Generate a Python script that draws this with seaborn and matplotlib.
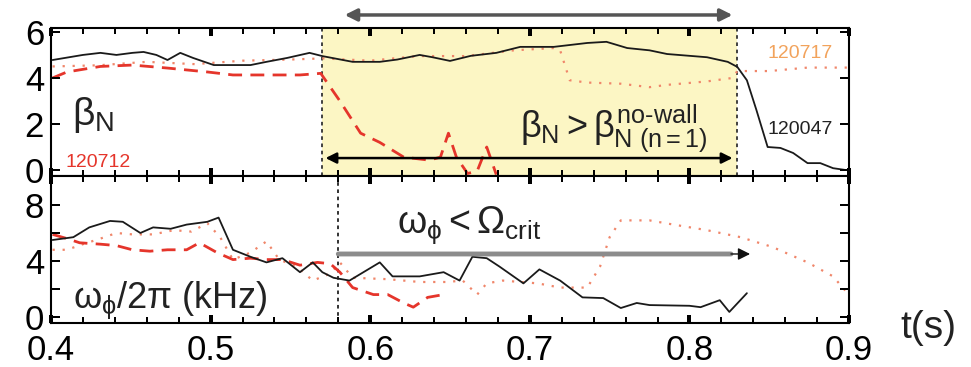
import numpy as np
import pandas as pd
import matplotlib
matplotlib.use("Agg")
import matplotlib.pyplot as plt
from matplotlib.ticker import MultipleLocator, FixedLocator, FixedFormatter
import seaborn as sns

# ---------------- data ----------------
t_bn_120047 = [0.401, 0.420, 0.431, 0.441, 0.451, 0.458, 0.466, 0.473, 0.481, 0.489, 0.502, 0.525,
               0.535, 0.548, 0.562, 0.570, 0.589, 0.606, 0.617, 0.631, 0.639, 0.650, 0.663, 0.679,
               0.694, 0.715, 0.736, 0.748, 0.761, 0.775, 0.786, 0.811, 0.824, 0.830, 0.836, 0.842,
               0.849, 0.857, 0.865, 0.874, 0.882, 0.890, 0.898]
bn_120047 = [4.78, 5.0, 5.09, 5.0, 5.09, 5.13, 5.0, 4.78, 5.09, 4.87, 4.56, 4.56,
             4.7, 4.87, 5.09, 4.95, 4.7, 4.7, 4.8, 5.0, 4.9, 4.74, 4.96, 5.09,
             5.35, 5.35, 5.52, 5.57, 5.3, 5.2, 5.04, 4.9, 4.7, 4.48, 3.9, 2.6,
             1.0, 0.96, 0.74, 0.3, 0.3, 0.08, 0.0]

t_bn_120712 = [0.401, 0.410, 0.431, 0.451, 0.473, 0.498, 0.514, 0.535, 0.556, 0.569, 0.581, 0.594,
               0.606, 0.621, 0.637, 0.644, 0.649, 0.654, 0.661, 0.667, 0.673, 0.679]
bn_120712 = [4.0, 4.26, 4.5, 4.56, 4.43, 4.26, 4.13, 4.13, 4.13, 4.2, 3.0, 1.6,
             1.2, 0.56, 0.43, 0.56, 1.6, 0.56, -0.15, -0.05, 1.0, -0.2]

t_bn_120717 = [0.401, 0.430, 0.460, 0.490, 0.520, 0.550, 0.570, 0.600, 0.630, 0.660, 0.690, 0.715,
               0.719, 0.725, 0.736, 0.757, 0.775, 0.786, 0.811, 0.827, 0.830, 0.850, 0.874, 0.899]
bn_120717 = [4.5, 4.55, 4.7, 4.6, 4.75, 4.8, 4.85, 4.75, 4.95, 4.95, 5.2, 5.3,
             5.2, 3.9, 3.8, 3.75, 3.6, 3.7, 3.85, 4.0, 4.3, 4.3, 4.45, 4.45]

t_om_120047 = [0.401, 0.414, 0.424, 0.437, 0.445, 0.456, 0.464, 0.475, 0.485, 0.498, 0.505, 0.514,
               0.525, 0.535, 0.545, 0.556, 0.564, 0.570, 0.577, 0.587, 0.606, 0.614, 0.631, 0.646,
               0.656, 0.664, 0.673, 0.681, 0.696, 0.706, 0.719, 0.733, 0.746, 0.757, 0.767, 0.775,
               0.800, 0.807, 0.819, 0.825, 0.836]
om_120047 = [5.5, 5.7, 6.4, 6.86, 6.8, 6.0, 6.4, 6.3, 6.6, 6.8, 7.1, 4.8,
             4.3, 3.9, 4.2, 3.2, 3.9, 3.2, 2.8, 2.6, 3.9, 2.9, 2.9, 3.2,
             2.6, 4.3, 4.2, 3.6, 2.4, 3.4, 2.6, 1.4, 1.35, 0.64, 1.0, 0.85,
             0.8, 0.7, 1.2, 0.36, 1.7]

t_om_120712 = [0.401, 0.410, 0.418, 0.431, 0.441, 0.451, 0.462, 0.473, 0.485, 0.493, 0.504, 0.514,
               0.525, 0.535, 0.545, 0.556, 0.567, 0.575, 0.581, 0.589, 0.602, 0.611, 0.621, 0.627,
               0.636, 0.646]
om_120712 = [5.9, 5.6, 5.3, 5.2, 5.1, 4.8, 4.7, 4.8, 4.8, 5.3, 4.6, 4.1,
             4.2, 4.1, 4.1, 3.7, 3.9, 3.8, 3.2, 2.1, 1.6, 1.6, 1.0, 0.7,
             1.4, 1.6]

t_om_120717 = [0.401, 0.410, 0.420, 0.431, 0.441, 0.451, 0.464, 0.477, 0.488, 0.498, 0.506, 0.514,
               0.525, 0.535, 0.543, 0.554, 0.564, 0.575, 0.581, 0.589, 0.611, 0.631, 0.648, 0.658,
               0.667, 0.673, 0.683, 0.705, 0.719, 0.736, 0.744, 0.750, 0.757, 0.775, 0.790, 0.811,
               0.832, 0.852, 0.874, 0.890, 0.899]
om_120717 = [4.8, 4.8, 5.2, 5.6, 6.0, 5.9, 5.9, 6.2, 6.1, 6.7, 5.7, 4.1,
             4.6, 5.4, 4.1, 3.6, 2.6, 3.1, 3.9, 2.8, 2.7, 2.5, 2.5, 2.6,
             1.6, 2.4, 2.6, 2.4, 2.1, 2.1, 3.6, 5.7, 6.9, 6.9, 6.6, 6.2,
             5.7, 5.0, 3.9, 2.9, 1.7]

x_ticks = [0.4, 0.5, 0.6, 0.7, 0.8, 0.9]
x_minor_step = 0.02
x_tick_labels = ["0.4", "0.5", "0.6", "0.7", "0.8", "0.9"]
top_y_ticks = [0, 2, 4, 6]
top_y_labels = ["0", "2", "4", "6"]
bot_y_ticks = [0, 2, 4, 6, 8]
bot_y_labels = ["0", "", "4", "", "8"]

shade_start, shade_end = 0.57, 0.83
bottom_marker = 0.58
omega_arrow_end = 0.838
omega_arrow_level = 4.5

# ---------------- style ----------------
plt.style.use("default")
sns.set_style("white")
plt.rcParams["font.family"] = ["Liberation Sans", "DejaVu Sans"]
plt.rcParams["mathtext.fontset"] = "custom"
plt.rcParams["mathtext.rm"] = "Liberation Sans"
plt.rcParams["mathtext.it"] = "Liberation Sans"
plt.rcParams["mathtext.bf"] = "Liberation Sans:bold"
plt.rcParams["mathtext.sf"] = "Liberation Sans"
plt.rcParams.update({
    "axes.axisbelow": False,
    "axes.edgecolor": "black",
    "xtick.color": "black", "ytick.color": "black",
    "text.color": "#222222",
    "xtick.direction": "in", "ytick.direction": "in",
    "xtick.top": True, "xtick.bottom": True, "ytick.left": True, "ytick.right": True,
    "xtick.major.size": 6, "xtick.major.width": 2.8,
    "xtick.minor.size": 4.5, "xtick.minor.width": 1.4,
    "ytick.major.size": 6.5, "ytick.major.width": 1.4,
    "axes.linewidth": 1.5,
    "xtick.labelsize": 25, "ytick.labelsize": 25,
    "xtick.major.pad": 8, "ytick.major.pad": 5,
})

BLACK = "#1a1a1a"
RED = "#e5352b"
SALMON = "#f0866a"
ORANGE = "#f2a35c"
YELLOW = "#fcf6c4"
HYPHEN = "\u2010"

def frame(t, v, name):
    return pd.DataFrame({"t": t, "v": v, "shot": name})

top_black = frame(t_bn_120047, bn_120047, "120047")
top_red = frame(t_bn_120712, bn_120712, "120712")
top_dot = frame(t_bn_120717, bn_120717, "120717")
bot_black = frame(t_om_120047, om_120047, "120047")
bot_red = frame(t_om_120712, om_120712, "120712")
bot_dot = frame(t_om_120717, om_120717, "120717")

fig = plt.figure(figsize=(9.71, 3.67), dpi=100)
ax1 = fig.add_axes([0.0525, 0.5204, 0.8219, 0.4033])
ax2 = fig.add_axes([0.0525, 0.1199, 0.8219, 0.4005])

# ---------------- top panel ----------------
ax1.axvspan(shade_start, shade_end, color=YELLOW, zorder=0, lw=0)
ax1.axvline(shade_start, color="#333333", ls=(0, (2, 2)), lw=1.3, zorder=1)
ax1.axvline(shade_end, color="#333333", ls=(0, (2, 2)), lw=1.3, zorder=1)

sns.lineplot(data=top_dot, x="t", y="v", ax=ax1, color=SALMON, lw=1.6,
             linestyle=(0, (1, 3.5)), estimator=None, sort=False, legend=False)
sns.lineplot(data=top_red, x="t", y="v", ax=ax1, color=RED, lw=2.0,
             linestyle=(0, (5, 3)), estimator=None, sort=False, legend=False)
sns.lineplot(data=top_black, x="t", y="v", ax=ax1, color=BLACK, lw=1.3,
             estimator=None, sort=False, legend=False)
ax1.set_xlim(0.4, 0.9)
ax1.set_ylim(-0.26, 6.17)

# ---------------- bottom panel ----------------
ax2.axvline(bottom_marker, color="#222222", ls=(0, (2, 2)), lw=1.3, zorder=1)
sns.lineplot(data=bot_dot, x="t", y="v", ax=ax2, color=SALMON, lw=1.6,
             linestyle=(0, (1, 3.5)), estimator=None, sort=False, legend=False)
sns.lineplot(data=bot_red, x="t", y="v", ax=ax2, color=RED, lw=2.0,
             linestyle=(0, (5, 3)), estimator=None, sort=False, legend=False)
sns.lineplot(data=bot_black, x="t", y="v", ax=ax2, color=BLACK, lw=1.3,
             estimator=None, sort=False, legend=False)
ax2.set_xlim(0.4, 0.9)
ax2.set_ylim(-0.43, 10.07)

# ---------------- axes styling ----------------
minor_x = [v for v in np.arange(x_ticks[0], x_ticks[-1] + 1e-9, x_minor_step)
           if min(abs(v - m) for m in x_ticks) > 1e-6]

for ax, yt in ((ax1, top_y_ticks), (ax2, bot_y_ticks)):
    ax.set_xlabel("")
    ax.set_ylabel("")
    for sp in ax.spines.values():
        sp.set_visible(True)
        sp.set_color("black")
        sp.set_linewidth(1.5)
    ax.xaxis.set_major_locator(FixedLocator(x_ticks))
    ax.xaxis.set_minor_locator(FixedLocator(minor_x))
    ax.tick_params(axis="x", which="major", direction="in", length=6, width=2.8,
                   top=True, bottom=True, labelsize=25, colors="black", pad=8)
    ax.tick_params(axis="x", which="minor", direction="in", length=4.5, width=1.4,
                   top=True, bottom=True, colors="black")
    ax.tick_params(axis="y", which="major", direction="in", length=6.5, width=1.4,
                   left=True, right=True, labelsize=25, colors="black", pad=5)
    # explicit tick strokes drawn along the frame (inward), from the tick arrays
    xtr = ax.get_xaxis_transform()
    ytr = ax.get_yaxis_transform()
    hx = 8.0 / (ax.get_position().height * fig.get_figheight() * fig.dpi)
    hxm = 6.0 / (ax.get_position().height * fig.get_figheight() * fig.dpi)
    wy = 9.0 / (ax.get_position().width * fig.get_figwidth() * fig.dpi)
    ax.vlines(x_ticks, 0, hx, transform=xtr, colors="black", lw=2.8, zorder=6, clip_on=False)
    ax.vlines(x_ticks, 1 - hx, 1, transform=xtr, colors="black", lw=2.8, zorder=6, clip_on=False)
    ax.vlines(minor_x, 0, hxm, transform=xtr, colors="black", lw=1.4, zorder=6, clip_on=False)
    ax.vlines(minor_x, 1 - hxm, 1, transform=xtr, colors="black", lw=1.4, zorder=6, clip_on=False)
    ax.hlines(yt, 0, wy, transform=ytr, colors="black", lw=1.4, zorder=6, clip_on=False)
    ax.hlines(yt, 1 - wy, 1, transform=ytr, colors="black", lw=1.4, zorder=6, clip_on=False)

ax1.tick_params(axis="x", which="both", labelbottom=False)
ax1.yaxis.set_major_locator(FixedLocator(top_y_ticks))
ax1.yaxis.set_major_formatter(FixedFormatter(top_y_labels))
ax2.xaxis.set_major_formatter(FixedFormatter(x_tick_labels))
ax2.yaxis.set_major_locator(FixedLocator(bot_y_ticks))
ax2.yaxis.set_major_formatter(FixedFormatter(bot_y_labels))

# ---------------- annotations ----------------
xt1 = ax1.get_xaxis_transform()
ax1.annotate("", xy=(0.584, 1.088), xytext=(0.827, 1.088), xycoords=xt1, textcoords=xt1,
             annotation_clip=False,
             arrowprops=dict(arrowstyle="<|-|>", color="#555555", lw=2.5,
                             mutation_scale=18, shrinkA=0, shrinkB=0))
ax1.annotate("", xy=(0.572, 0.52), xytext=(0.827, 0.52),
             arrowprops=dict(arrowstyle="<|-|>", color="black", lw=1.8,
                             mutation_scale=16, shrinkA=0, shrinkB=0))

ax1.text(0.413, 1.95, r"$\beta_\mathrm{N}$", fontsize=28, color="#222222", va="baseline")
ax1.text(0.409, 0.15, "120712", fontsize=14, color=RED, va="baseline")
ax1.text(0.849, 4.87, "120717", fontsize=14, color=ORANGE, va="baseline")
ax1.text(0.849, 1.55, "120047", fontsize=14, color="#222222", va="baseline")
ax1.text(0.694, 1.45,
         r"$\beta_\mathrm{N} > \beta_{\mathrm{N\ (n=1)}}^{\mathrm{no" + HYPHEN + r"wall}}$",
         fontsize=26, color="#222222", va="baseline")

ax2.annotate("", xy=(omega_arrow_end - 0.012, omega_arrow_level), xytext=(bottom_marker, omega_arrow_level),
             arrowprops=dict(arrowstyle="-", color="#8c8c8c", lw=3.5, shrinkA=0, shrinkB=0))
ax2.annotate("", xy=(omega_arrow_end, omega_arrow_level), xytext=(omega_arrow_end - 0.012, omega_arrow_level),
             arrowprops=dict(arrowstyle="-|>", color="#111111", lw=1.0,
                             mutation_scale=18, shrinkA=0, shrinkB=0))
ax2.text(0.414, 0.62, r"$\omega_\phi/2\pi\ (\mathrm{kHz})$", fontsize=26, color="#222222", va="baseline")
ax2.text(0.617, 6.0, r"$\omega_\phi < \Omega_\mathrm{crit}$", fontsize=27, color="#222222", va="baseline")

fig.text(0.927, 0.079, "t(s)", fontsize=28, color="#222222", va="baseline")

fig.savefig("out.png", dpi=100)
